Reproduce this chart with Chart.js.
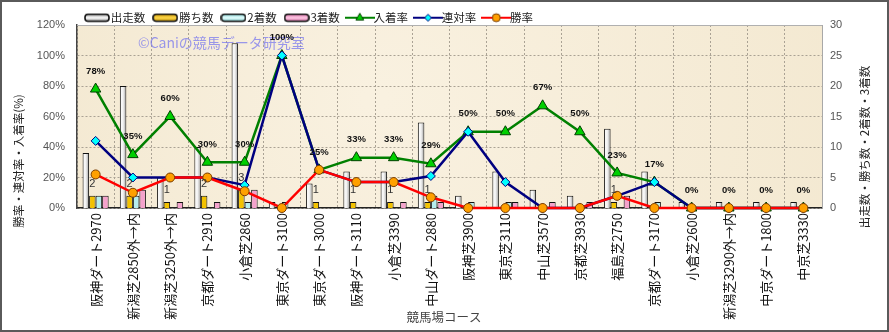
<!DOCTYPE html>
<html lang="ja">
<head>
<meta charset="utf-8">
<title>競馬場コース別成績</title>
<script src="https://cdn.jsdelivr.net/npm/chart.js@4.4.1/dist/chart.umd.min.js"></script>
<style>
  html, body { margin: 0; padding: 0; background: #fff; }
  #wrap { width: 889px; height: 332px; }
</style>
</head>
<body>
<div id="wrap"><canvas id="courseChart" width="889" height="332"></canvas></div>
<script>
// コース別の成績
const courses = ['阪神ダート2970', '新潟芝2850外→内', '新潟芝3250外→内', '京都ダート2910', '小倉芝2860',
                 '東京ダート3100', '東京ダート3000', '阪神ダート3110', '小倉芝3390', '中山ダート2880',
                 '阪神芝3900', '東京芝3110', '中山芝3570', '京都芝3930', '福島芝2750',
                 '京都ダート3170', '小倉芝2600', '新潟芝3290外→内', '中京ダート1800', '中京芝3330'];
const starts  = [9, 20, 5, 10, 27, 1, 4, 6, 6, 14, 2, 6, 3, 2, 13, 6, 1, 1, 1, 1];
const wins    = [2, 2, 1, 2, 3, 0, 1, 1, 1, 1, 0, 0, 0, 0, 1, 0, 0, 0, 0, 0];
const seconds = [2, 2, 0, 0, 1, 1, 0, 0, 0, 2, 1, 1, 0, 0, 0, 1, 0, 0, 0, 0];
const thirds  = [2, 3, 1, 1, 3, 0, 0, 0, 1, 1, 0, 1, 1, 1, 2, 0, 0, 0, 0, 0];
const placeRate = [78, 35, 60, 30, 30, 100, 25, 33, 33, 29, 50, 50, 67, 50, 23, 17, 0, 0, 0, 0];
const top2Rate  = [44, 20, 20, 20, 15, 100, 25, 17, 17, 21, 50, 17, 0, 0, 8, 17, 0, 0, 0, 0];
const winRate   = [22, 10, 20, 20, 11, 0, 25, 17, 17, 7, 0, 0, 0, 0, 8, 0, 0, 0, 0, 0];
const rateTicks  = [0, 20, 40, 60, 80, 100, 120];
const countTicks = [0, 5, 10, 15, 20, 25, 30];

const JP = '"Noto Sans CJK JP", "Noto Sans", sans-serif';
const NUM = '"Liberation Sans", Arial, sans-serif';
const GROUP = 0.7;

// 出走数の棒は左が白、右が灰色のグラデーション
function startsFill(c) {
  const xs = c.chart.scales && c.chart.scales.x;
  if (!xs || !xs.width || c.type !== 'data') return '#eeeeee';
  const bw = xs.width / courses.length * GROUP / 4;
  const left = xs.getPixelForValue(c.dataIndex) - 2 * bw;
  if (!isFinite(left)) return '#eeeeee';
  const g = c.chart.ctx.createLinearGradient(left, 0, left + bw, 0);
  g.addColorStop(0, '#ffffff');
  g.addColorStop(0.5, '#f2f2f2');
  g.addColorStop(1, '#9c9c9c');
  return g;
}

function roundedBar(g, x, y, w, h, r) {
  g.beginPath();
  g.moveTo(x + r, y);
  g.arcTo(x + w, y, x + w, y + h, r);
  g.arcTo(x + w, y + h, x, y + h, r);
  g.arcTo(x, y + h, x, y, r);
  g.arcTo(x, y, x + w, y, r);
  g.closePath();
}

function barSwatch(light, dark) {
  const c = document.createElement('canvas');
  c.width = 26; c.height = 10;
  const g = c.getContext('2d');
  const grad = g.createLinearGradient(0, 1, 0, 9);
  grad.addColorStop(0, dark);
  grad.addColorStop(0.5, light);
  grad.addColorStop(1, dark);
  roundedBar(g, 1, 1.5, 24, 7, 3);
  g.fillStyle = grad;
  g.fill();
  g.lineWidth = 1.6;
  g.strokeStyle = '#111';
  g.stroke();
  return c;
}

function lineSwatch(color, style, radius, fill, edge) {
  const c = document.createElement('canvas');
  c.width = 30; c.height = 14;
  const g = c.getContext('2d');
  g.strokeStyle = color;
  g.lineWidth = 2;
  g.beginPath(); g.moveTo(0, 7); g.lineTo(30, 7); g.stroke();
  g.fillStyle = fill;
  g.strokeStyle = edge;
  g.lineWidth = 1;
  Chart.helpers.drawPoint(g, {pointStyle: style, radius: radius, borderWidth: 1, rotation: 0}, 15, 7);
  return c;
}

// 凡例の記号 (データセット順)
const swatches = [
  barSwatch('#ffffff', '#8a8a8a'),
  barSwatch('#ffd84a', '#c89400'),
  barSwatch('#e6ffff', '#7fcfcf'),
  barSwatch('#ffc8e4', '#d66aa4'),
  lineSwatch('#008000', 'triangle', 4.5, '#00d000', '#004000'),
  lineSwatch('#000080', 'rectRot', 3.5, '#00ffff', '#000080'),
  lineSwatch('#ff0000', 'circle', 4, '#ffa000', '#7a3c00')
];

const decor = {
  id: 'decor',
  beforeInit(chart) {
    // 凡例の高さを詰める
    const legend = chart.legend;
    const fit = legend.fit;
    legend.fit = function () { fit.call(this); this.height = 25; };
  },
  beforeDraw(chart) {
    const {ctx, chartArea: a} = chart;
    ctx.save();
    ctx.fillStyle = '#ffffff';
    ctx.fillRect(0, 0, chart.width, chart.height);
    const bg = ctx.createRadialGradient(a.left + a.width * 0.4, a.top + a.height * 0.4, 10,
                                        a.left + a.width * 0.5, a.top + a.height * 0.5, a.width * 0.6);
    bg.addColorStop(0, '#f9f1e0');
    bg.addColorStop(1, '#f3e8d0');
    ctx.fillStyle = bg;
    ctx.fillRect(a.left, a.top, a.width, a.height);
    ctx.restore();
  },
  beforeDatasetsDraw(chart) {
    const ctx = chart.ctx;
    ctx.save();
    ctx.font = '14px ' + JP;
    ctx.fillStyle = 'rgba(112, 112, 240, 0.7)';
    ctx.textBaseline = 'middle';
    ctx.fillText('©Caniの競馬データ研究室', 138, 43);
    ctx.restore();
  },
  afterDatasetsDraw(chart) {
    const ctx = chart.ctx;
    ctx.save();
    ctx.textAlign = 'center';
    ctx.textBaseline = 'middle';
    // 勝ち数
    ctx.font = '11px ' + NUM;
    ctx.fillStyle = '#333';
    chart.getDatasetMeta(1).data.forEach((bar, i) => {
      if (wins[i] > 0) ctx.fillText(String(wins[i]), bar.x, bar.y - 12);
    });
    // 入着率
    ctx.font = 'bold 9.5px ' + NUM;
    ctx.fillStyle = '#111';
    chart.getDatasetMeta(4).data.forEach((pt, i) => {
      ctx.fillText(placeRate[i] + '%', pt.x, pt.y - 18);
    });
    ctx.restore();
  },
  afterDraw(chart) {
    const {ctx, chartArea: a} = chart;
    ctx.save();
    ctx.strokeStyle = '#b0b0b0';
    ctx.lineWidth = 1;
    ctx.beginPath();
    ctx.moveTo(a.left, a.top + 0.5);
    ctx.lineTo(a.right, a.top + 0.5);
    ctx.stroke();

    ctx.fillStyle = '#222';
    ctx.font = '11.5px ' + JP;
    ctx.textAlign = 'center';
    ctx.textBaseline = 'middle';
    ctx.save();
    ctx.translate(19, 161);
    ctx.rotate(-Math.PI / 2);
    ctx.fillText('勝率・連対率・入着率(%)', 0, 0);
    ctx.restore();
    ctx.save();
    ctx.translate(865, 147);
    ctx.rotate(-Math.PI / 2);
    ctx.fillText('出走数・勝ち数・2着数・3着数', 0, 0);
    ctx.restore();
    ctx.fillStyle = '#444';
    ctx.font = '12.5px ' + JP;
    ctx.fillText('競馬場コース', 444, 317);

    ctx.strokeStyle = '#5a5a5a';
    ctx.lineWidth = 2;
    ctx.strokeRect(1, 1, chart.width - 2, chart.height - 2);
    ctx.restore();
  }
};

const barDefaults = {
  type: 'bar',
  yAxisID: 'yCount',
  borderColor: '#111',
  borderWidth: 1,
  borderSkipped: 'start',
  categoryPercentage: GROUP,
  barPercentage: 1.0,
  order: 4
};

const lineDefaults = {
  type: 'line',
  yAxisID: 'yRate',
  borderWidth: 2.5,
  tension: 0,
  fill: false,
  clip: false,
  pointBorderWidth: 1
};

new Chart(document.getElementById('courseChart'), {
  data: {
    labels: courses,
    datasets: [
      {...barDefaults, label: '出走数', data: starts, backgroundColor: startsFill},
      {...barDefaults, label: '勝ち数', data: wins, backgroundColor: '#f3c200'},
      {...barDefaults, label: '2着数', data: seconds, backgroundColor: '#b6eeee'},
      {...barDefaults, label: '3着数', data: thirds, backgroundColor: '#f4a2cc'},
      {...lineDefaults, label: '入着率', data: placeRate, order: 3,
        borderColor: '#008000', pointStyle: 'triangle', pointRadius: 6,
        pointBackgroundColor: '#00d000', pointBorderColor: '#004000'},
      {...lineDefaults, label: '連対率', data: top2Rate, order: 2,
        borderColor: '#000080', pointStyle: 'rectRot', pointRadius: 4.5,
        pointBackgroundColor: '#00ffff', pointBorderColor: '#000080'},
      {...lineDefaults, label: '勝率', data: winRate, order: 1,
        borderColor: '#ff0000', pointStyle: 'circle', pointRadius: 4.5,
        pointBackgroundColor: '#ffa000', pointBorderColor: '#7a3c00'}
    ]
  },
  options: {
    responsive: false,
    animation: false,
    devicePixelRatio: 1,
    layout: {padding: 0},
    plugins: {
      tooltip: {enabled: false},
      legend: {
        position: 'top',
        align: 'start',
        fullSize: false,
        labels: {
          usePointStyle: true,
          pointStyleWidth: 16,
          padding: 12,
          color: '#222',
          font: {family: JP, size: 11.5},
          sort: (a, b) => a.datasetIndex - b.datasetIndex,
          generateLabels(chart) {
            const items = Chart.defaults.plugins.legend.labels.generateLabels(chart);
            items.forEach(it => { it.pointStyle = swatches[it.datasetIndex]; it.rotation = 0; });
            return items;
          }
        }
      }
    },
    scales: {
      x: {
        offset: true,
        grid: {display: true, offset: true, color: '#aaa294', lineWidth: 1, drawTicks: false},
        border: {display: true, color: '#222', width: 1.5, dash: [2, 2]},
        ticks: {
          autoSkip: false, minRotation: 90, maxRotation: 90, padding: 5,
          color: '#111', font: {family: JP, size: 13}
        },
        afterFit(s) { s.height = 124; }
      },
      yRate: {
        position: 'left',
        min: 0, max: 120,
        afterBuildTicks(s) { s.ticks = rateTicks.map(v => ({value: v})); },
        grid: {color: '#aaa294', lineWidth: 1, drawTicks: false},
        border: {display: true, color: '#444', width: 1.5, dash: [2, 2]},
        ticks: {
          padding: 12, color: '#555', font: {family: NUM, size: 11},
          callback: v => v + '%'
        },
        afterFit(s) { s.width = 77; }
      },
      yCount: {
        position: 'right',
        min: 0, max: 30,
        afterBuildTicks(s) { s.ticks = countTicks.map(v => ({value: v})); },
        grid: {display: false, drawTicks: false},
        border: {display: true, color: '#a8a8a8', width: 1},
        ticks: {padding: 8, color: '#555', font: {family: NUM, size: 11}},
        afterFit(s) { s.width = 67; }
      }
    }
  },
  plugins: [decor]
});
</script>
</body>
</html>
